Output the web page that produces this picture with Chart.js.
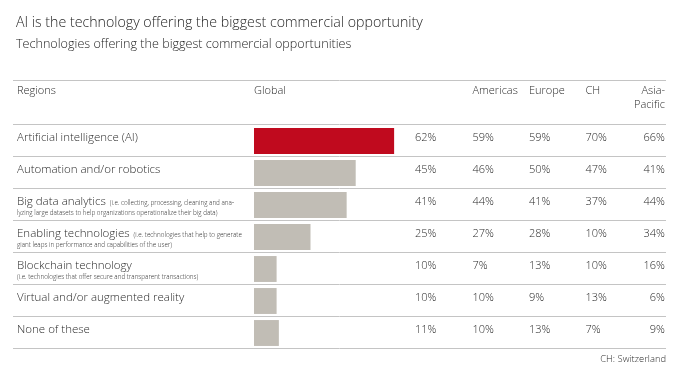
<!DOCTYPE html>
<html>
<head>
<meta charset="utf-8">
<title>AI is the technology offering the biggest commercial opportunity</title>
<script src="https://cdn.jsdelivr.net/npm/chart.js@4.4.0/dist/chart.umd.min.js"></script>
<style>
  html, body { margin: 0; padding: 0; background: #fff; }
  #wrap { width: 682px; height: 374px; }
</style>
</head>
<body>
<div id="wrap"><canvas id="techChart" width="682" height="374"></canvas></div>
<script>
const categories = [
  "Artificial intelligence (AI)",
  "Automation and/or robotics",
  "Big data analytics",
  "Enabling technologies",
  "Blockchain technology",
  "Virtual and/or augmented reality",
  "None of these"
];
const notesInline = ["", "", "(i.e. collecting, processing, cleaning and ana-", "(i.e. technologies that help to generate", "", "", ""];
const notesBelow = [
  "", "",
  "lyzing large datasets to help organizations operationalize their big data)",
  "giant leaps in performance and capabilities of the user)",
  "(i.e. technologies that offer secure and transparent transactions)",
  "", ""
];
const globalValues = [62, 45, 41, 25, 10, 10, 11];
const americasValues = [59, 46, 44, 27, 7, 10, 10];
const europeValues = [59, 50, 41, 28, 13, 9, 13];
const chValues = [70, 47, 37, 10, 10, 13, 7];
const asiaPacificValues = [66, 41, 44, 34, 16, 6, 9];
const titleText = "AI is the technology offering the biggest commercial opportunity";
const subtitleText = "Technologies offering the biggest commercial opportunities";
const footnoteText = "CH: Switzerland";

const FONT = '"Open Sans", "Noto Sans", sans-serif';
const TEXT = '#2b2b2b';
const LINE = '#c4c4c4';

// columns of the table (x in px, align)
const columns = [
  { head: ["Global"], values: globalValues, x: 415, headX: 254, align: 'left' },
  { head: ["Americas"], values: americasValues, x: 472.5, align: 'left' },
  { head: ["Europe"], values: europeValues, x: 529, align: 'left' },
  { head: ["CH"], values: chValues, x: 585.5, align: 'left' },
  { head: ["Asia-", "Pacific"], values: asiaPacificValues, x: 665, align: 'right' }
];

const tablePlugin = {
  id: 'tableText',
  afterDraw(chart) {
    const ctx = chart.ctx;
    const area = chart.chartArea;
    const yScale = chart.scales.y;
    const rowH = (area.bottom - area.top) / categories.length;
    const left = 13, right = 666;

    ctx.save();
    // title + subtitle
    ctx.fillStyle = '#1e1e1e';
    ctx.textAlign = 'left';
    ctx.textBaseline = 'alphabetic';
    ctx.font = '300 14.2px ' + FONT;
    ctx.fillText(titleText, 16, 27);
    ctx.font = '300 12.6px ' + FONT;
    ctx.fillText(subtitleText, 16, 48);

    // horizontal rules
    ctx.strokeStyle = LINE;
    ctx.lineWidth = 1;
    const rule = (y) => {
      ctx.beginPath();
      ctx.moveTo(left, Math.round(y) + 0.5);
      ctx.lineTo(right, Math.round(y) + 0.5);
      ctx.stroke();
    };
    rule(80);
    rule(area.top - 1);
    categories.forEach((c, i) => {
      rule(yScale.getPixelForValue(i) + rowH / 2 - 1);
    });

    // header row
    ctx.fillStyle = TEXT;
    ctx.font = '300 11px ' + FONT;
    ctx.fillText("Regions", 17, 94);
    columns.forEach(col => {
      ctx.textAlign = col.align;
      col.head.forEach((h, k) => {
        ctx.fillText(h, col.headX !== undefined ? col.headX : col.x, 94 + k * 13.5);
      });
    });

    // rows
    categories.forEach((cat, i) => {
      const top = yScale.getPixelForValue(i) - rowH / 2;
      ctx.textAlign = 'left';
      ctx.fillStyle = TEXT;
      ctx.font = '300 11.5px ' + FONT;
      ctx.fillText(cat, 17, top + 15.5);
      const w = ctx.measureText(cat).width;
      ctx.font = '300 6.3px ' + FONT;
      if (notesInline[i]) ctx.fillText(notesInline[i], 17 + w + 4, top + 15.5);
      if (notesBelow[i]) ctx.fillText(notesBelow[i], 17, top + 26);

      ctx.font = '300 11px ' + FONT;
      columns.forEach(col => {
        ctx.textAlign = col.align;
        ctx.fillText(col.values[i] + '%', col.x, top + 15.5);
      });
    });

    // footnote
    ctx.textAlign = 'right';
    ctx.font = '300 9.4px ' + FONT;
    ctx.fillText(footnoteText, 666, 362);
    ctx.restore();
  }
};

const ctx = document.getElementById('techChart').getContext('2d');
const techChart = new Chart(ctx, {
  type: 'bar',
  data: {
    labels: categories,
    datasets: [{
      label: 'Global',
      data: globalValues,
      backgroundColor: globalValues.map((v, i) => i === 0 ? '#c00a1e' : '#c1bdb5'),
      borderWidth: 0,
      categoryPercentage: 1,
      barPercentage: 0.81
    }]
  },
  options: {
    indexAxis: 'y',
    responsive: false,
    animation: false,
    layout: {
      padding: { left: 254, right: 202, top: 125, bottom: 25 }
    },
    scales: {
      x: { display: false, min: 0, max: 100 },
      y: { display: false }
    },
    plugins: {
      legend: { display: false },
      tooltip: { enabled: false },
      title: { display: false }
    }
  },
  plugins: [tablePlugin]
});
</script>
</body>
</html>
